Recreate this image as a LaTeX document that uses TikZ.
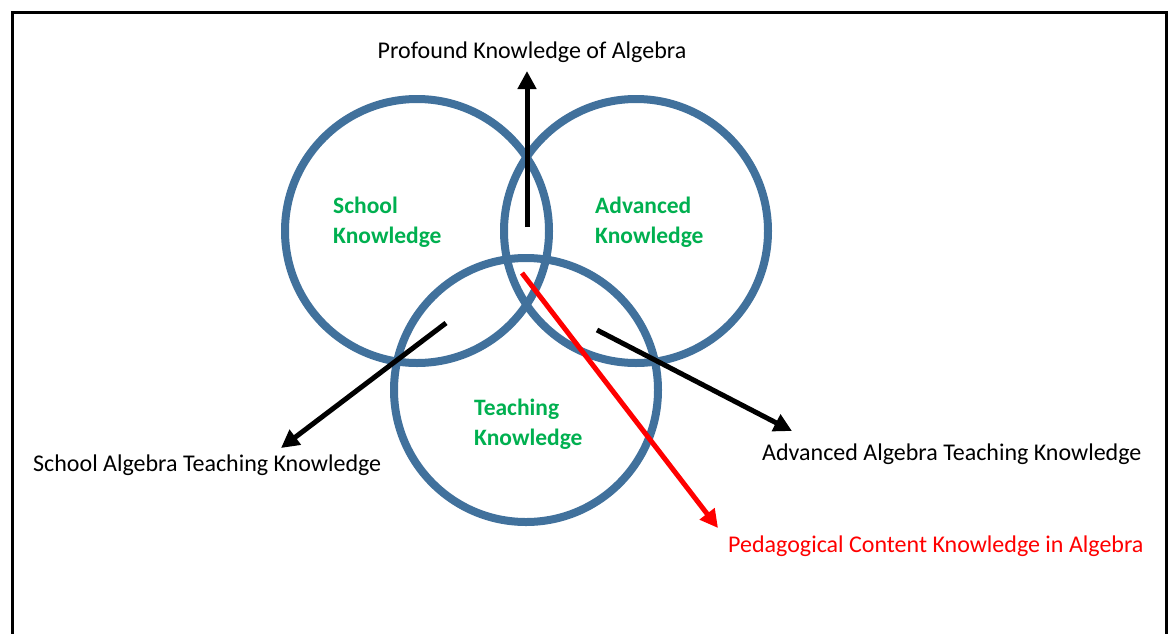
\documentclass[tikz,border=0pt]{standalone}
\usepackage{fontspec}
\setmainfont{Carlito}
\usetikzlibrary{arrows.meta}
\definecolor{ringblue}{HTML}{41719C}
\definecolor{kgreen}{HTML}{00B050}
\definecolor{kred}{HTML}{FF0000}
\tikzset{
  ring/.style={circle, draw=ringblue, line width=8pt, minimum size=264pt, inner sep=0pt},
  setlabel/.style={text=kgreen, font=\fontsize{23.5}{30}\selectfont\bfseries, align=left, anchor=west, inner sep=0pt},
  outlabel/.style={font=\fontsize{24}{28}\selectfont, inner sep=0pt},
  arr/.style={line width=5pt, -{Triangle[length=18pt,width=18pt]}},
}
\begin{document}
\begin{tikzpicture}[x=1pt,y=-1pt]
\useasboundingbox (0,0) rectangle (1173,633);
\fill[white] (0,0) rectangle (1173,633);
\draw[line width=3pt] (12,640) -- (12,12) -- (1166,12) -- (1166,640);
\node[ring] (school) at (417,231) {};
\node[ring] (advanced) at (636,231) {};
\node[ring] (teaching) at (526,390) {};
\node[setlabel] (lschool) at (333,222) {School\\Knowledge};
\node[setlabel] (ladv) at (595,222) {Advanced\\Knowledge};
\node[setlabel] (lteach) at (474,424.5) {Teaching\\Knowledge};
\node[outlabel] (profound) at (532,52) {Profound Knowledge of Algebra};
\node[outlabel, anchor=west] (sat) at (33,465) {School Algebra Teaching Knowledge};
\node[outlabel, anchor=west] (aat) at (762,454) {Advanced Algebra Teaching Knowledge};
\node[outlabel, anchor=west, text=kred] (pck) at (728,546) {Pedagogical Content Knowledge in Algebra};
\coordinate (s1) at (527,227);
\coordinate (e1) at (527,71);
\coordinate (s2) at (446,323);
\coordinate (e2) at (281,448);
\coordinate (s3) at (597,330);
\coordinate (e3) at (792,431);
\coordinate (s4) at (522,273);
\coordinate (e4) at (718,528);
\draw[arr] (s1) -- (e1);
\draw[arr] (s2) -- (e2);
\draw[arr] (s3) -- (e3);
\draw[arr, draw=kred, fill=kred] (s4) -- (e4);
\end{tikzpicture}
\end{document}
